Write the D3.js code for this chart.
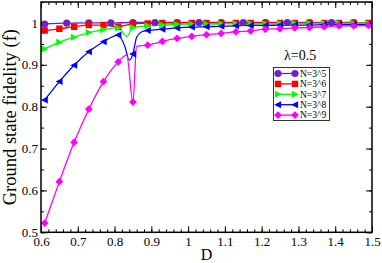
<!DOCTYPE html>
<html><head><meta charset="utf-8">
<script src="https://cdn.jsdelivr.net/npm/d3@7"></script>
<style>
html,body{margin:0;padding:0;background:#fff;}
svg{display:block;}
text{font-family:"Liberation Serif","Times New Roman",serif;fill:#000;}
</style></head>
<body>
<svg id="chart" width="382" height="263"></svg>
<script>
// ---- data ----
const xStep4 = [0.61,0.65,0.69,0.73,0.77,0.81,0.85,0.89,0.93,0.97,1.01,1.05,1.09,1.13,1.17,1.21,1.25,1.29,1.33,1.37,1.41,1.45,1.49];
const xStep6 = [0.61,0.67,0.73,0.79,0.85,0.91,0.97,1.03,1.09,1.15,1.21,1.27,1.33,1.39,1.45];

const fN5 = [0.9975,0.9995,1.0,1.0,1.001,1.001,1.001,1.001,1.001,1.001,1.001,1.001,1.001,1.001,1.001];
const fN6 = [0.982,0.986,0.991,0.995,0.995,0.991,0.998,0.999,1.0,1.0,1.0,1.0,1.0,1.0,1.0,1.0,1.0,1.0,1.0,1.0,1.0,1.0,1.0];
const fN7 = [0.938,0.954,0.966,0.977,0.984,0.988,0.989,0.993,0.995,0.996,0.997,0.997,0.998,0.998,0.998,0.998,0.999,0.999,0.999,0.999,0.999,0.999,0.999];
const fN8 = [0.816,0.860,0.899,0.931,0.955,0.971,0.926,0.982,0.985,0.988,0.990,0.991,0.992,0.993,0.994,0.994,0.995,0.995,0.995,0.996,0.996,0.996,0.996];
const fN9 = [0.522,0.621,0.715,0.794,0.860,0.907,0.811,0.947,0.956,0.963,0.968,0.972,0.975,0.979,0.981,0.985,0.986,0.988,0.989,0.991,0.993,0.993,0.994];

// extra line-only points (curve between markers near the dip)
const lineOnlyN7 = [[0.833,0.968]];
const lineOnlyN8 = [[0.828,0.944],[0.84,0.911],[0.86,0.966],[0.874,0.979]];
const lineOnlyN9 = [[0.833,0.923],[0.86,0.944]];

const seriesNames = ["N=3^5","N=3^6","N=3^7","N=3^8","N=3^9"];
const seriesColors = ["#7221bc","#ff0000","#00ff00","#0000ff","#ff00ff"];
const seriesShapes = ["circle","square","triR","triL","diamond"];

const xMajor = [0.6,0.7,0.8,0.9,1.0,1.1,1.2,1.3,1.4,1.5];
const xMajorLabels = ["0.6","0.7","0.8","0.9","1","1.1","1.2","1.3","1.4","1.5"];
const yMajor = [0.5,0.6,0.7,0.8,0.9,1.0];
const yMajorLabels = ["0.5","0.6","0.7","0.8","0.9","1"];

const xTitle = "D";
const yTitle = "Ground state fidelity (f)";
const annotation = "λ=0.5";

// ---- build ----
const svg = d3.select("#chart");
const L = 41, R = 372, T = 2, B = 232.3;
const x = d3.scaleLinear().domain([0.6,1.5]).range([L,R]);
const y = d3.scaleLinear().domain([0.5,1.05]).range([B,T]);

const series = [
  {name:seriesNames[0], xs:xStep6, ys:fN5, extra:[]},
  {name:seriesNames[1], xs:xStep4, ys:fN6, extra:[]},
  {name:seriesNames[2], xs:xStep4, ys:fN7, extra:lineOnlyN7},
  {name:seriesNames[3], xs:xStep4, ys:fN8, extra:lineOnlyN8},
  {name:seriesNames[4], xs:xStep4, ys:fN9, extra:lineOnlyN9}
];
series.forEach((s,i)=>{
  s.color = seriesColors[i]; s.shape = seriesShapes[i];
  s.pts = s.xs.map((d,j)=>[d,s.ys[j]]);
  s.linePts = s.pts.concat(s.extra).sort((a,b)=>a[0]-b[0]);
});

function markerPath(shape, r){
  switch(shape){
    case "circle": return d3.symbol(d3.symbolCircle, Math.PI*r*r)();
    case "square": return `M${-r},${-r}H${r}V${r}H${-r}Z`;
    case "triR": return `M${r*1.1},0L${-r*0.9},${-r}L${-r*0.9},${r}Z`;
    case "triL": return `M${-r*1.1},0L${r*0.9},${-r}L${r*0.9},${r}Z`;
    case "diamond": return `M0,${-r*1.15}L${r*1.15},0L0,${r*1.15}L${-r*1.15},0Z`;
  }
}
const mr = {circle:3.6, square:3.2, triR:3.5, triL:3.5, diamond:3.4};

// axes (ticks inward)
const axisG = svg.append("g");
function mkAxis(gen, transform, vals, size, labels){
  const a = gen.tickValues(vals).tickSize(size).tickSizeOuter(0);
  if(labels) a.tickFormat((d,i)=>labels[i]); else a.tickFormat("");
  const g = axisG.append("g").attr("transform",transform).call(a);
  g.select(".domain").remove();
  g.selectAll("line").attr("stroke","#000").attr("stroke-width",1);
  return g;
}
const xMinor = x.ticks(45);
const yMinor = y.ticks(11);
const gb = mkAxis(d3.axisBottom(x).tickPadding(4.5), `translate(0,${B})`, xMajor, -6, xMajorLabels);
mkAxis(d3.axisBottom(x), `translate(0,${B})`, xMinor, -3, null);
mkAxis(d3.axisTop(x), `translate(0,${T})`, xMajor, -6, null);
mkAxis(d3.axisTop(x), `translate(0,${T})`, xMinor, -3, null);
const gl = mkAxis(d3.axisLeft(y).tickPadding(3), `translate(${L},0)`, yMajor, -6, yMajorLabels);
mkAxis(d3.axisLeft(y), `translate(${L},0)`, yMinor, -3, null);
mkAxis(d3.axisRight(y), `translate(${R},0)`, yMajor, -6, null);
mkAxis(d3.axisRight(y), `translate(${R},0)`, yMinor, -3, null);
gb.selectAll("text").attr("font-size",13).attr("font-family","Liberation Serif");
gl.selectAll("text").attr("font-size",13).attr("font-family","Liberation Serif");

// clip
svg.append("clipPath").attr("id","clip").append("rect").attr("x",L).attr("y",T).attr("width",R-L).attr("height",B-T);

const plot = svg.append("g").attr("clip-path","url(#clip)");
const line = d3.line().x(d=>x(d[0])).y(d=>y(d[1])).curve(d3.curveMonotoneX);
series.forEach(s=>{
  plot.append("path").attr("d",line(s.linePts)).attr("fill","none")
    .attr("stroke",s.color).attr("stroke-width",1.3);
});
series.forEach(s=>{
  plot.selectAll(null).data(s.pts).enter().append("path")
    .attr("d",markerPath(s.shape, mr[s.shape]))
    .attr("transform",d=>`translate(${x(d[0])},${y(d[1])})`)
    .attr("fill",s.color);
});

// frame
svg.append("rect").attr("x",L).attr("y",T).attr("width",R-L).attr("height",B-T)
  .attr("fill","none").attr("stroke","#000").attr("stroke-width",1.5);

// titles
svg.append("text").attr("x",(L+R)/2).attr("y",260).attr("text-anchor","middle")
  .attr("font-size",16).text(xTitle);
svg.append("text").attr("transform",`translate(15.5,${(T+B)/2}) rotate(-90)`)
  .attr("text-anchor","middle").attr("font-size",18.5).text(yTitle);

// annotation
svg.append("text").attr("x",284).attr("y",60).attr("font-size",14).text(annotation);

// legend
const lg = svg.append("g");
lg.append("rect").attr("x",273.5).attr("y",67.5).attr("width",56).attr("height",53)
  .attr("fill","#fff").attr("stroke","#333").attr("stroke-width",1);
series.forEach((s,i)=>{
  const yy = 73.5 + i*10.4;
  lg.append("line").attr("x1",278).attr("x2",295).attr("y1",yy).attr("y2",yy)
    .attr("stroke",s.color).attr("stroke-width",1.3);
  [278,295].forEach(xx=>{
    lg.append("path").attr("d",markerPath(s.shape, mr[s.shape]))
      .attr("transform",`translate(${xx},${yy})`).attr("fill",s.color);
  });
  lg.append("text").attr("x",300).attr("y",yy+3.3).attr("font-size",9.5).text(s.name);
});
</script>
</body></html>
